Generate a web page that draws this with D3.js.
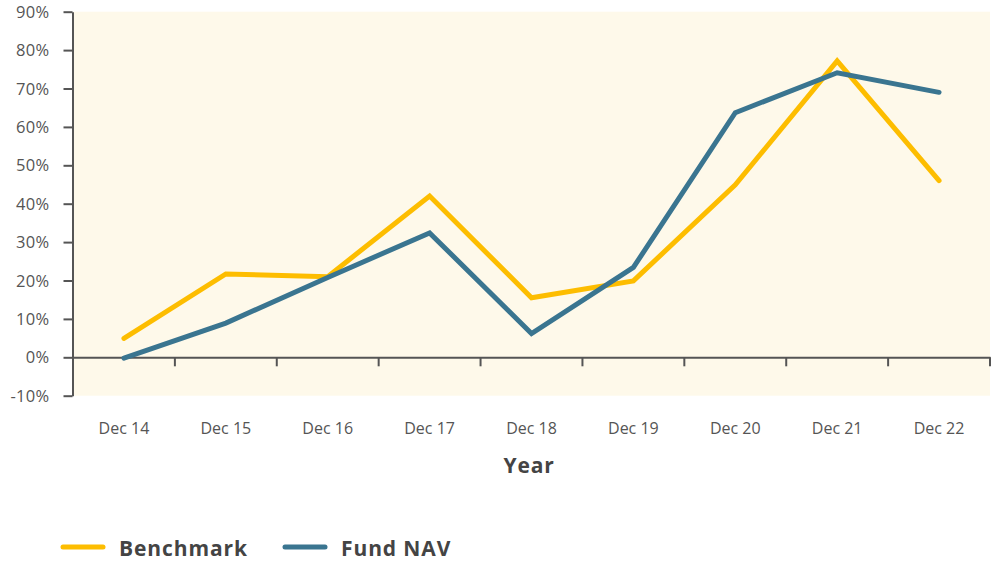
<!DOCTYPE html>
<html><head><meta charset="utf-8">
<script src="https://cdn.jsdelivr.net/npm/d3@7"></script>
<style>
body{margin:0;background:#fff;}
svg{display:block;font-family:"Open Sans",sans-serif;}
</style></head>
<body><svg id="c" width="997" height="561"></svg>
<script>
const categories = ["Dec 14","Dec 15","Dec 16","Dec 17","Dec 18","Dec 19","Dec 20","Dec 21","Dec 22"];
const benchmark = [4.9, 21.7, 21.0, 42.0, 15.5, 19.9, 44.9, 77.2, 46.0];
const fundNav = [-0.2, 8.9, 20.8, 32.4, 6.2, 23.4, 63.7, 74.1, 69.0];
const yTicks = [-10,0,10,20,30,40,50,60,70,80,90];
const seriesNames = ["Benchmark","Fund NAV"];
const colors = ["#FDBD00","#3A7590"];

const svg = d3.select("#c");
const L = 73, R = 990, T = 11.7, B = 395.7;
const x = d3.scaleBand().domain(categories).range([L,R]);
const y = d3.scaleLinear().domain([-10,90]).range([B,T]);

svg.append("rect").attr("x",L).attr("y",T).attr("width",R-L).attr("height",B-T).attr("fill","#FEF9EA");

const ya = svg.append("g").attr("transform",`translate(${L-0.5},0)`)
  .call(d3.axisLeft(y).tickValues(yTicks).tickFormat(d=>d+"%").tickSize(9).tickPadding(14).tickSizeOuter(0));
ya.select(".domain").attr("stroke","#555").attr("stroke-width",2);
ya.selectAll(".tick line").attr("stroke","#555").attr("stroke-width",2);
ya.selectAll(".tick text").attr("fill","#555").style("font-size","16.5px").style("font-family","Open Sans, sans-serif").style("letter-spacing","0.3px").attr("dy","0.34em");

const xa = svg.append("g").attr("transform",`translate(0,${y(0)})`)
  .call(d3.axisBottom(x).tickSize(0).tickPadding(0));
xa.select(".domain").attr("stroke","#555").attr("stroke-width",2);
xa.selectAll(".tick text").remove();
xa.selectAll(".tick line").remove();
categories.forEach((c,i)=>{
  const bx = x(c)+x.bandwidth();
  xa.append("line").attr("x1",bx).attr("x2",bx).attr("y1",0).attr("y2",9).attr("stroke","#555").attr("stroke-width",2);
});
svg.append("g").selectAll("text").data(categories).join("text")
  .attr("x",d=>x(d)+x.bandwidth()/2).attr("y",434).attr("text-anchor","middle")
  .attr("fill","#555").style("font-size","16px").text(d=>d);

svg.append("text").attr("x",529).attr("y",473).attr("text-anchor","middle")
  .attr("fill","#444").style("font-size","21px").style("font-weight","bold").style("letter-spacing","0.8px").text("Year");

const line = d3.line().x((d,i)=>x(categories[i])+x.bandwidth()/2).y(d=>y(d));
[benchmark,fundNav].forEach((s,k)=>{
  svg.append("path").datum(s).attr("d",line).attr("fill","none")
    .attr("stroke",colors[k]).attr("stroke-width",5).attr("stroke-linecap","round").attr("stroke-linejoin","miter");
});

const legX = [63, 285];
seriesNames.forEach((n,k)=>{
  svg.append("line").attr("x1",legX[k]).attr("x2",legX[k]+40).attr("y1",547).attr("y2",547)
    .attr("stroke",colors[k]).attr("stroke-width",5).attr("stroke-linecap","round");
  svg.append("text").attr("x",legX[k]+56).attr("y",556).attr("fill","#444")
    .style("font-size","21px").style("font-weight","bold").style("letter-spacing","0.9px").text(n);
});
</script></body></html>
